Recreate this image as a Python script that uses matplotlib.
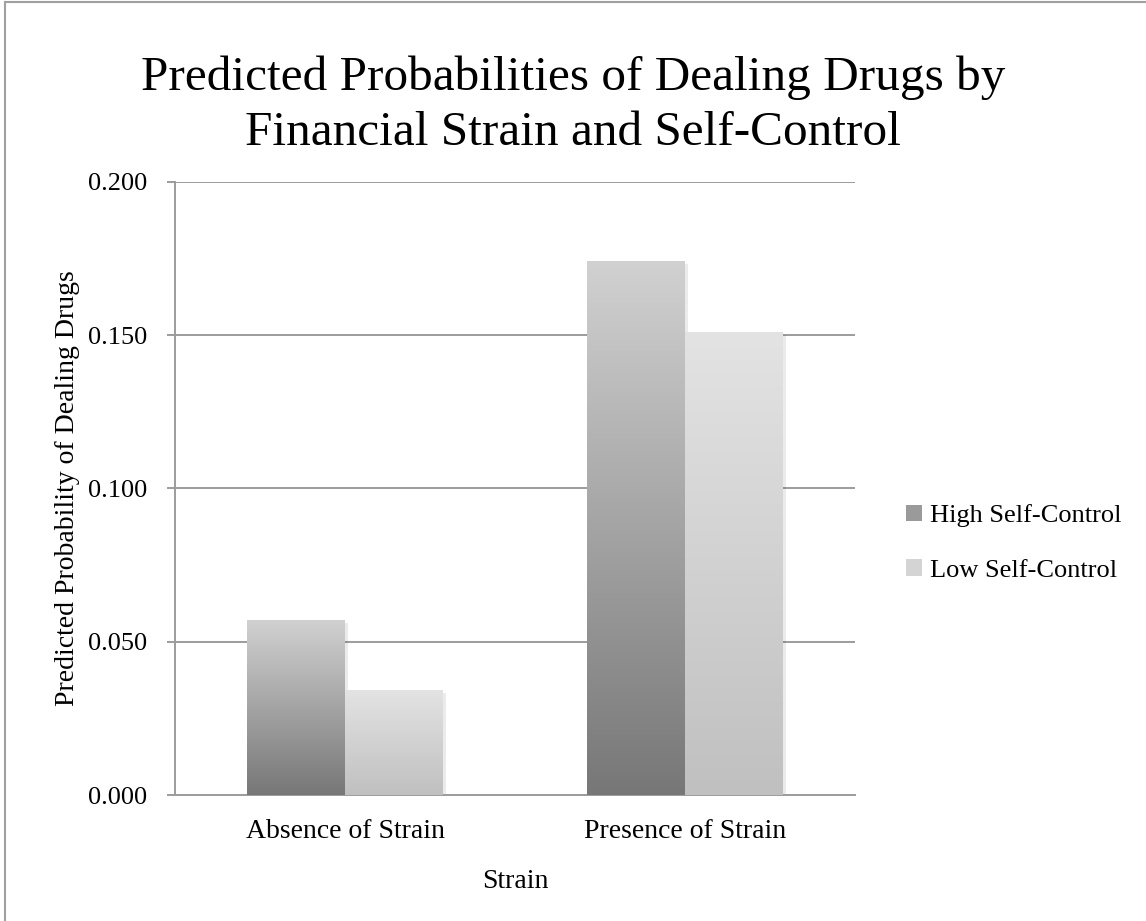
import numpy as np
import matplotlib
matplotlib.use("Agg")
import matplotlib.pyplot as plt
from matplotlib.colors import LinearSegmentedColormap
from matplotlib.patches import Patch
from matplotlib.lines import Line2D

# values
categories = ["Absence of Strain", "Presence of Strain"]
series_names = ["High Self-Control", "Low Self-Control"]
high_sc = [0.057, 0.174]
low_sc = [0.034, 0.151]
y_ticks = [0.000, 0.050, 0.100, 0.150, 0.200]

# gradient (bottom colour, top colour) per series
grad_colors = {
    "High Self-Control": ("#777777", "#d1d1d1"),
    "Low Self-Control": ("#c0c0c0", "#e3e3e3"),
}
legend_colors = {"High Self-Control": "#9a9a9a", "Low Self-Control": "#d4d4d4"}

plt.rcParams["font.family"] = ["Liberation Serif", "DejaVu Serif"]
grid_c = "#9c9c9c"

fig = plt.figure(figsize=(11.46, 9.21), dpi=100)
ax = fig.add_axes([0.1527, 0.1368, 0.5934, 0.6656])

x = np.arange(len(categories))
w = 0.288
for i, (name, vals) in enumerate(zip(series_names, [high_sc, low_sc])):
    bars = ax.bar(x + (i - 0.5) * w, vals, w, color="none", edgecolor="none", zorder=3)
    cmap = LinearSegmentedColormap.from_list(name, list(grad_colors[name]))
    grad = np.linspace(0, 1, 256).reshape(-1, 1)
    for b in bars:
        x0, y0 = b.get_x(), b.get_y()
        x1, y1 = x0 + b.get_width(), y0 + b.get_height()
        # faint shadow to the right/bottom
        ax.bar(x0 + b.get_width() / 2 + 0.008, b.get_height(), b.get_width(),
               bottom=-0.0008, color="#000000", alpha=0.08, zorder=2.5,
               edgecolor="none")
        ax.imshow(grad, extent=[x0, x1, y0, y1], origin="lower", cmap=cmap,
                  aspect="auto", zorder=3, interpolation="bicubic")

ax.set_xlim(-0.5, 1.5)
ax.set_ylim(0, 0.2)
ax.set_yticks(y_ticks)
ax.set_yticklabels([f"{v:.3f}" for v in y_ticks], fontsize=19)
ax.set_xticks(x)
ax.set_xticklabels(categories, fontsize=20)
ax.tick_params(axis="x", length=0, pad=17)
ax.tick_params(axis="y", length=6, width=1.4, color=grid_c, pad=14)

ax.grid(axis="y", color=grid_c, linewidth=1.4, zorder=0)
ax.set_axisbelow(True)
for s in ["top", "right"]:
    ax.spines[s].set_visible(False)
for s in ["left", "bottom"]:
    ax.spines[s].set_color(grid_c)
    ax.spines[s].set_linewidth(1.4)

ax.set_xlabel("Strain", fontsize=20, labelpad=18)
ax.set_ylabel("Predicted Probability of Dealing Drugs", fontsize=20, labelpad=6)

fig.text(0.5, 1 - 56 / 921,
         "Predicted Probabilities of Dealing Drugs by\nFinancial Strain and Self-Control",
         ha="center", va="top", fontsize=35.5, linespacing=1.3)

handles = [Patch(facecolor=legend_colors[n], edgecolor="none") for n in series_names]
fig.legend(handles, series_names, loc="center left",
           bbox_to_anchor=(882 / 1146, 1 - 543 / 921), frameon=False,
           fontsize=19, handlelength=0.6, handleheight=0.6, handletextpad=0.3,
           labelspacing=1.2)

# page border fragment (left and top)
fig.add_artist(Line2D([5 / 1146, 5 / 1146], [0, 1 - 2 / 921], color="#a0a0a0",
                      linewidth=1.5, transform=fig.transFigure))
fig.add_artist(Line2D([5 / 1146, 1], [1 - 2 / 921, 1 - 2 / 921], color="#a0a0a0",
                      linewidth=1.5, transform=fig.transFigure))

fig.savefig("out.png", dpi=100)
